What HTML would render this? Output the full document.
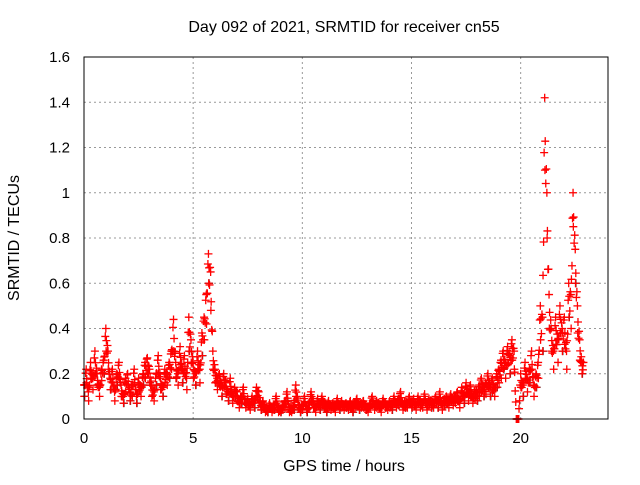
<!DOCTYPE html>
<html><head><meta charset="utf-8"><style>
body{margin:0;background:#fff;}
svg text{font-family:"Liberation Sans",sans-serif;font-size:15px;fill:#000;}
svg text.big{font-size:16px;}
</style></head><body>
<svg id="chart" width="640" height="480" xmlns="http://www.w3.org/2000/svg">
<rect width="640" height="480" fill="#fff"/>
<g id="grid"></g><g id="pts"></g><g id="axes"></g>
</svg>
<script>
const xTicks=[0,5,10,15,20];
const yTicks=[0,0.2,0.4,0.6,0.8,1,1.2,1.4,1.6];
const yTickLabels=["0","0.2","0.4","0.6","0.8","1","1.2","1.4","1.6"];
const startHour=0, stepHour=0.1;
const srmtid=[
0.15,0.22,0.12,0.25,0.18,0.3,0.2,0.14,0.22,0.26,
0.4,0.3,0.18,0.22,0.12,0.2,0.25,0.15,0.1,0.18,
0.2,0.12,0.15,0.22,0.1,0.18,0.14,0.2,0.25,0.27,
0.22,0.15,0.12,0.2,0.28,0.18,0.14,0.22,0.2,0.25,
0.3,0.44,0.25,0.2,0.32,0.22,0.28,0.18,0.45,0.35,
0.25,0.2,0.3,0.22,0.38,0.45,0.55,0.73,0.65,0.3,
0.22,0.18,0.2,0.15,0.2,0.16,0.12,0.18,0.1,0.14,
0.12,0.08,0.1,0.14,0.07,0.09,0.06,0.1,0.08,0.14,
0.12,0.06,0.08,0.05,0.04,0.07,0.05,0.06,0.1,0.05,
0.04,0.06,0.08,0.12,0.05,0.04,0.06,0.15,0.08,0.05,
0.06,0.1,0.04,0.07,0.12,0.08,0.05,0.09,0.06,0.1,
0.07,0.05,0.08,0.06,0.07,0.05,0.09,0.06,0.08,0.06,
0.07,0.06,0.08,0.05,0.07,0.09,0.06,0.07,0.08,0.06,
0.05,0.07,0.1,0.06,0.08,0.07,0.05,0.09,0.07,0.06,
0.08,0.06,0.1,0.07,0.09,0.12,0.06,0.08,0.07,0.1,
0.07,0.09,0.06,0.1,0.08,0.07,0.11,0.06,0.09,0.08,
0.07,0.1,0.08,0.12,0.06,0.09,0.1,0.08,0.11,0.09,
0.1,0.12,0.08,0.14,0.1,0.16,0.12,0.15,0.1,0.13,
0.12,0.15,0.18,0.14,0.16,0.2,0.15,0.18,0.14,0.2,
0.22,0.26,0.3,0.25,0.32,0.28,0.35,0.3,0,0,
0.2,0.15,0.25,0.18,0.22,0.3,0.15,0.2,0.25,0.5,
0.45,1.42,1.0,0.55,0.4,0.3,0.45,0.35,0.5,0.4,
0.45,0.3,0.6,0.55,1.0,0.75,0.5,0.35,0.25
];
const srmtidLow=[
0.1,0.16,0.08,0.18,0.13,0.2,0.15,0.1,0.17,0.2,
0.3,0.22,0.13,0.16,0.08,0.15,0.18,0.1,0.07,0.12,
0.15,0.08,0.1,0.16,0.07,0.12,0.1,0.15,0.18,0.2,
0.16,0.1,0.08,0.15,0.2,0.13,0.1,0.16,0.15,0.18,
0.22,0.3,0.18,0.15,0.24,0.16,0.2,0.13,0.3,0.25,
0.18,0.15,0.22,0.16,0.28,0.35,0.42,0.6,0.48,0.22,
0.16,0.13,0.15,0.1,0.14,0.11,0.08,0.12,0.07,0.1,
0.08,0.05,0.07,0.1,0.05,0.06,0.04,0.07,0.05,0.1,
0.08,0.04,0.05,0.03,0.03,0.05,0.03,0.04,0.07,0.03,
0.03,0.04,0.05,0.08,0.03,0.03,0.04,0.1,0.05,0.03,
0.04,0.07,0.03,0.05,0.08,0.05,0.03,0.06,0.04,0.07,
0.05,0.03,0.05,0.04,0.05,0.03,0.06,0.04,0.05,0.04,
0.05,0.04,0.05,0.03,0.05,0.06,0.04,0.05,0.05,0.04,
0.03,0.05,0.07,0.04,0.05,0.05,0.03,0.06,0.05,0.04,
0.05,0.04,0.07,0.05,0.06,0.08,0.04,0.05,0.05,0.07,
0.05,0.06,0.04,0.07,0.05,0.05,0.08,0.04,0.06,0.05,
0.05,0.07,0.05,0.08,0.04,0.06,0.07,0.05,0.08,0.06,
0.07,0.08,0.05,0.1,0.07,0.11,0.08,0.1,0.07,0.09,
0.08,0.1,0.12,0.1,0.11,0.14,0.1,0.12,0.1,0.14,
0.16,0.18,0.22,0.18,0.24,0.2,0.26,0.22,0,0,
0.14,0.1,0.18,0.12,0.16,0.22,0.1,0.14,0.18,0.35,
0.3,1.1,0.8,0.4,0.3,0.22,0.33,0.25,0.38,0.3,
0.33,0.22,0.45,0.4,0.85,0.6,0.38,0.26,0.2
];
const X0=84,X1=608,Y0=419,Y1=57,XMAX=24,YMAX=1.6;
const sx=h=>X0+(X1-X0)*h/XMAX;
const sy=v=>Y0-(Y0-Y1)*v/YMAX;
const NS="http://www.w3.org/2000/svg";
function mk(tag,attrs,parent){const e=document.createElementNS(NS,tag);for(const k in attrs)e.setAttribute(k,attrs[k]);parent.appendChild(e);return e;}
const grid=document.getElementById('grid'),pts=document.getElementById('pts'),axes=document.getElementById('axes');
xTicks.forEach(t=>{
 const x=sx(t);
 if(t>0){const g=mk('line',{x1:x,x2:x,y1:Y0,y2:Y1,stroke:'#999','stroke-dasharray':'2,3','stroke-width':1},grid);
 
 }
 const tx=mk('text',{x:x,y:Y0+24,'text-anchor':'middle'},axes);tx.textContent=t;
 
 
});
yTicks.forEach((t,i)=>{
 const y=sy(t);
 if(t>0&&t<YMAX){const g=mk('line',{x1:X0,x2:X1,y1:y,y2:y,stroke:'#999','stroke-dasharray':'2,3','stroke-width':1},grid);
 
 }
 const tx=mk('text',{x:X0-14,y:y+5,'text-anchor':'end'},axes);tx.textContent=yTickLabels[i];
 
 
});
const box=mk('rect',{x:X0,y:Y1,width:X1-X0,height:Y0-Y1,fill:'none',stroke:'#000','stroke-width':1},axes);


function plus(h,v,color,name){
 const x=sx(h),y=sy(v);
 const p=mk('path',{d:`M${x-4},${y}h8M${x},${y-4}v8`,stroke:color,'stroke-width':1.3,fill:'none'},pts);
 
 
}
srmtidLow.forEach((v,i)=>{if(i%3===0)plus(startHour+i*stepHour+0.03,v,'#333','point-black');});
const fracs=[0,0.25,0.5,0.75];
const mixes=[0,0.7,0.35,1];
srmtid.forEach((v,i)=>{
 const lo=srmtidLow[i];
 const nv=i+1<srmtid.length?srmtid[i+1]:v;
 const nl=i+1<srmtidLow.length?srmtidLow[i+1]:lo;
 fracs.forEach((f,k)=>{
  const hi=v+(nv-v)*f, low=lo+(nl-lo)*f;
  const val=f===0?v:(low+(hi-low)*mixes[k]);
  plus(startHour+(i+f)*stepHour,val,'#f00','point-red');
 });
 plus(startHour+(i+0.12)*stepHour,lo,'#f00','point-red');
});
const title=mk('text',{x:344,y:32,'text-anchor':'middle','class':'big'},axes);title.textContent='Day 092 of 2021, SRMTID for receiver cn55';


const xl=mk('text',{x:344,y:471,'text-anchor':'middle','class':'big'},axes);xl.textContent='GPS time / hours';


const yl=mk('text',{x:19,y:238,'text-anchor':'middle','class':'big',transform:'rotate(-90 19 238)'},axes);yl.textContent='SRMTID / TECUs';


</script>
</body></html>
